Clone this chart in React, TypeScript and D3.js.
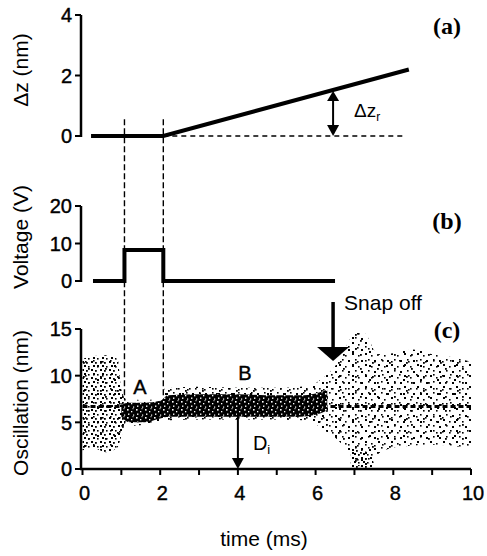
import React, { useRef, useEffect } from 'react';
import * as d3 from 'd3';

// panel (a): z displacement
const dzTime = [0.22, 2.08, 8.4];
const dzValue = [0, 0, 2.2];
const dzTicks = [0, 2, 4];

// panel (b): voltage pulse
const voltTime = [0.27, 1.08, 1.08, 2.08, 2.08, 6.5];
const voltValue = [0, 0, 8.3, 8.3, 0, 0];
const voltTicks = [0, 10, 20];

// panel (c): oscillation cloud, envelopes
const cloudTime = [1.0, 1.1, 1.5, 2.0, 2.1, 3, 4, 5, 5.8, 6.2, 6.6, 6.9, 7.1, 7.3, 7.6, 8, 8.5, 9, 9.5, 10];
const cloudUpper = [7.8, 7.6, 7.4, 7.5, 8.6, 8.8, 8.7, 8.7, 8.9, 9.8, 11.6, 14.0, 15.0, 14.4, 12.3, 12.4, 12.8, 12.3, 12.0, 11.5];
const cloudLower = [4.4, 4.6, 4.7, 5.0, 5.2, 5.3, 5.3, 5.3, 5.2, 4.2, 3.0, 1.4, 0.3, 0.4, 1.6, 2.3, 2.5, 2.6, 2.5, 2.2];
const leftTime = [0, 0.3, 0.6, 0.9, 1.0, 1.1];
const leftUpper = [11.8, 12.1, 12.2, 11.8, 8.5, 7.6];
const leftLower = [2.0, 2.2, 1.8, 2.3, 3.5, 4.6];
const coreTime = [1.0, 1.2, 1.6, 2.0, 2.2, 3, 4, 5, 5.6, 6.0, 6.3];
const coreUpper = [6.9, 7.1, 7.1, 7.3, 7.9, 8.0, 8.0, 7.9, 7.9, 8.1, 8.5];
const coreLower = [5.6, 5.0, 5.0, 5.4, 5.6, 5.6, 5.6, 5.6, 5.6, 5.8, 6.3];
const clumpTime = [6.9, 7.0, 7.2, 7.4, 7.5];
const clumpUpper = [1.5, 2.2, 2.0, 1.6, 0.6];
const clumpLower = [0.2, 0, 0, 0, 0.2];
const setpoint = 6.7;
const oscTicks = [0, 5, 10, 15];

const timeTicks = [0, 1, 2, 3, 4, 5, 6, 7, 8, 9, 10];
const timeLabels = [0, 2, 4, 6, 8, 10];
const pulseStart = 1.08;
const pulseEnd = 2.08;
const snapTime = 6.45;
const diTime = 4.0;
const diTop = 6.1;

const FONT = 'Arial, "Liberation Sans", Helvetica, sans-serif';
const SERIF = '"Times New Roman", "Liberation Serif", serif';

const App = () => {
    const chartRef = useRef<SVGSVGElement>(null);

    useEffect(() => {
        const svg = d3.select(chartRef.current);
        svg.selectAll('*').remove();

        const x = d3.scaleLinear().domain([0, 10]).range([82.5, 471]);
        const yA = d3.scaleLinear().domain([0, 4]).range([136, 15]);
        const yB = d3.scaleLinear().domain([0, 20]).range([281, 206]);
        const yC = d3.scaleLinear().domain([0, 15]).range([469, 329]);
        const axisX = 81;

        // speckle patterns for the sampled oscillation
        const defs = svg.append('defs');
        const addPattern = (id: string, w: number, h: number, dots: number[][], bg?: string, dot = '#000') => {
            const p = defs.append('pattern').attr('id', id)
                .attr('patternUnits', 'userSpaceOnUse').attr('width', w).attr('height', h);
            if (bg) p.append('rect').attr('width', w).attr('height', h).attr('fill', bg);
            dots.forEach(([cx, cy, s]) =>
                p.append('rect').attr('x', cx).attr('y', cy).attr('width', s).attr('height', s).attr('fill', dot));
        };
        addPattern('sparseA', 13, 11, [[1, 1, 2], [7, 3, 1.6], [10, 8, 2], [4, 7, 1.6]]);
        addPattern('sparseB', 17, 14, [[3, 4, 1.8], [12, 1, 2], [8, 10, 1.6], [15, 12, 1.8], [0, 11, 1.6]]);
        addPattern('medium', 9, 8, [[1, 1, 2], [5, 2, 1.8], [3, 5, 2], [7, 6, 1.6]]);
        addPattern('dense', 9, 8, [[1, 1, 1.6], [5, 3, 1.3], [2, 5.5, 1.4], [7, 6.5, 1.2], [6.5, 0.2, 1]], '#000', '#fff');

        const band = (ts: number[], up: number[], lo: number[]) =>
            d3.area<number>()
                .x((d, i) => x(ts[i]))
                .y0((d, i) => yC(lo[i]))
                .y1((d, i) => yC(up[i]))
                .curve(d3.curveMonotoneX)(ts);

        // ---------- panel (c) ----------
        const cloud = band(cloudTime, cloudUpper, cloudLower);
        svg.append('path').attr('d', cloud).attr('fill', 'url(#sparseA)');
        svg.append('path').attr('d', cloud).attr('fill', 'url(#sparseB)');
        const left = band(leftTime, leftUpper, leftLower);
        svg.append('path').attr('d', left).attr('fill', 'url(#medium)');
        svg.append('path').attr('d', left).attr('fill', 'url(#sparseB)');
        svg.append('path').attr('d', band(clumpTime, clumpUpper, clumpLower)).attr('fill', 'url(#medium)');
        svg.append('line')
            .attr('x1', x(0)).attr('x2', x(10))
            .attr('y1', yC(setpoint)).attr('y2', yC(setpoint))
            .attr('stroke', '#000').attr('stroke-width', 3).attr('stroke-dasharray', '5,3');
        svg.append('path').attr('d', band(coreTime, coreUpper, coreLower)).attr('fill', 'url(#dense)');

        // axes (c)
        svg.append('line').attr('x1', axisX - 1).attr('x2', x(10)).attr('y1', yC(0)).attr('y2', yC(0))
            .attr('stroke', '#000').attr('stroke-width', 2.5);
        timeTicks.forEach((t) => {
            svg.append('line').attr('x1', x(t)).attr('x2', x(t)).attr('y1', yC(0)).attr('y2', yC(0) + 6)
                .attr('stroke', '#000').attr('stroke-width', 2);
        });
        timeLabels.forEach((t) => {
            svg.append('text').attr('x', x(t) + 2).attr('y', 500).attr('text-anchor', 'middle')
                .style('font-family', FONT).style('font-size', '20px')
                .attr('stroke', '#000').attr('stroke-width', 0.4).text(t);
        });

        const leftAxis = (scale: d3.ScaleLinear<number, number>, ticks: number[]) => {
            svg.append('line').attr('x1', axisX).attr('x2', axisX)
                .attr('y1', scale(ticks[ticks.length - 1])).attr('y2', scale(ticks[0]) + 1)
                .attr('stroke', '#000').attr('stroke-width', 2.5);
            ticks.forEach((v) => {
                svg.append('line').attr('x1', axisX - 6).attr('x2', axisX).attr('y1', scale(v)).attr('y2', scale(v))
                    .attr('stroke', '#000').attr('stroke-width', 2);
                svg.append('text').attr('x', axisX - 9).attr('y', scale(v)).attr('dy', '0.36em')
                    .attr('text-anchor', 'end').style('font-family', FONT).style('font-size', '20px')
                    .attr('stroke', '#000').attr('stroke-width', 0.4).text(v);
            });
        };
        leftAxis(yA, dzTicks);
        leftAxis(yB, voltTicks);
        leftAxis(yC, oscTicks);

        // ---------- panel (a) ----------
        const lineA = d3.line<number>().x((d, i) => x(dzTime[i])).y((d) => yA(d));
        svg.append('path').attr('d', lineA(dzValue)).attr('fill', 'none')
            .attr('stroke', '#000').attr('stroke-width', 4);
        svg.append('line').attr('x1', x(pulseEnd)).attr('x2', x(8.3)).attr('y1', yA(0)).attr('y2', yA(0))
            .attr('stroke', '#000').attr('stroke-width', 1.3).attr('stroke-dasharray', '5,4');

        // Δz_r double arrow
        const slope = (dzValue[2] - dzValue[1]) / (dzTime[2] - dzTime[1]);
        const topY = yA((snapTime - dzTime[1]) * slope) + 1;
        const botY = yA(0);
        const ax = x(snapTime);
        svg.append('line').attr('x1', ax).attr('x2', ax).attr('y1', topY + 6).attr('y2', botY - 6)
            .attr('stroke', '#000').attr('stroke-width', 2);
        svg.append('path').attr('d', `M${ax},${topY} L${ax - 6},${topY + 10} L${ax + 6},${topY + 10} Z`).attr('fill', '#000');
        svg.append('path').attr('d', `M${ax},${botY} L${ax - 6},${botY - 11} L${ax + 6},${botY - 11} Z`).attr('fill', '#000');
        const dzr = svg.append('text').attr('x', ax + 21).attr('y', 117)
            .style('font-family', FONT).style('font-size', '19px');
        dzr.append('tspan').text('Δz');
        dzr.append('tspan').attr('dy', 4).style('font-size', '12px').text('r');

        // ---------- panel (b) ----------
        const lineB = d3.line<number>().x((d, i) => x(voltTime[i])).y((d) => yB(d));
        svg.append('path').attr('d', lineB(voltValue)).attr('fill', 'none')
            .attr('stroke', '#000').attr('stroke-width', 4);

        // pulse guides
        [pulseStart, pulseEnd].forEach((t, i) => {
            svg.append('line').attr('x1', x(t)).attr('x2', x(t))
                .attr('y1', yA(0.55)).attr('y2', yC(i === 0 ? 7.5 : 7.9))
                .attr('stroke', '#000').attr('stroke-width', 1.4).attr('stroke-dasharray', '6,3');
        });

        // snap off arrow
        const sx = x(snapTime);
        svg.append('line').attr('x1', sx).attr('x2', sx).attr('y1', 302).attr('y2', 348)
            .attr('stroke', '#000').attr('stroke-width', 3.5);
        svg.append('path').attr('d', `M${sx - 16},${347} L${sx + 16},${347} L${sx},${361} Z`).attr('fill', '#000');
        svg.append('text').attr('x', sx + 11).attr('y', 310)
            .style('font-family', FONT).style('font-size', '21px').text('Snap off');

        // D_i arrow
        const dx = x(diTime);
        svg.append('line').attr('x1', dx).attr('x2', dx).attr('y1', yC(diTop)).attr('y2', yC(0) - 8)
            .attr('stroke', '#000').attr('stroke-width', 2);
        svg.append('path').attr('d', `M${dx - 6},${yC(0) - 11} L${dx + 6},${yC(0) - 11} L${dx},${yC(0)} Z`).attr('fill', '#000');
        const di = svg.append('text').attr('x', dx + 15).attr('y', 450)
            .style('font-family', FONT).style('font-size', '20px');
        di.append('tspan').text('D');
        di.append('tspan').attr('dy', 4).style('font-size', '13px').text('i');

        svg.append('text').attr('x', 140).attr('y', 394).attr('text-anchor', 'middle')
            .style('font-family', FONT).style('font-size', '20px').attr('stroke', '#000').attr('stroke-width', 0.4).text('A');
        svg.append('text').attr('x', 245).attr('y', 380).attr('text-anchor', 'middle')
            .style('font-family', FONT).style('font-size', '20px').attr('stroke', '#000').attr('stroke-width', 0.4).text('B');

        // panel letters
        [['(a)', 34], ['(b)', 229], ['(c)', 338]].forEach(([s, yy]) => {
            svg.append('text').attr('x', 447).attr('y', yy as number).attr('text-anchor', 'middle')
                .style('font-family', SERIF).style('font-weight', 'bold').style('font-size', '24px').text(s as string);
        });

        // axis titles
        [['Δz (nm)', 70], ['Voltage (V)', 237], ['Oscillation (nm)', 403]].forEach(([s, cy]) => {
            svg.append('text').attr('transform', `translate(28,${cy}) rotate(-90)`).attr('text-anchor', 'middle')
                .style('font-family', FONT).style('font-size', '21px').text(s as string);
        });
        svg.append('text').attr('x', 264).attr('y', 546).attr('text-anchor', 'middle')
            .style('font-family', FONT).style('font-size', '21px').text('time (ms)');
    }, []);

    return (
        <svg ref={chartRef} width={487} height={556}
            style={{ position: 'absolute', left: 0, top: 0, background: '#fff' }} />
    );
};

export default App;
